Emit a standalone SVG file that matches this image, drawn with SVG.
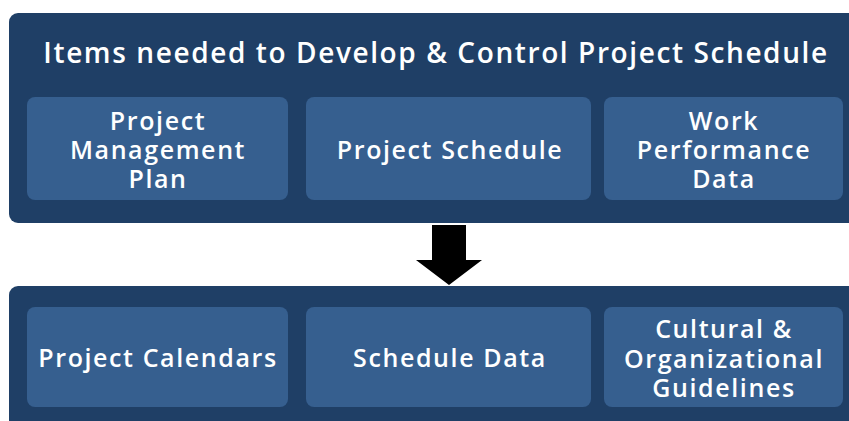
<svg xmlns="http://www.w3.org/2000/svg" width="849" height="421" viewBox="0 0 849 421">
<style>
.outer{fill:#1F3F66}
.inner{fill:#365F8F}
text{font-family:"Open Sans","Liberation Sans",sans-serif;font-weight:600;fill:#FFFFFF;text-anchor:middle;letter-spacing:1.6px}
.t{font-size:28px}
.n{font-size:25px}
</style>
<rect width="849" height="421" fill="#FFFFFF"/>
<g id="top-group">
<rect class="outer" x="9" y="13" width="860" height="210" rx="9"/>
<text class="t" x="436" y="63">Items needed to Develop &amp; Control Project Schedule</text>
</g>
<g id="node-pmp">
<rect class="inner" x="27" y="97" width="261" height="103" rx="8"/>
<text class="n"><tspan x="158" y="130">Project</tspan><tspan x="158" y="159">Management</tspan><tspan x="158" y="188">Plan</tspan></text>
</g>
<g id="node-ps">
<rect class="inner" x="306" y="97" width="285" height="103" rx="8"/>
<text class="n" x="450" y="159">Project Schedule</text>
</g>
<g id="node-wpd">
<rect class="inner" x="604" y="97" width="239" height="103" rx="8"/>
<text class="n"><tspan x="724" y="130">Work</tspan><tspan x="724" y="159">Performance</tspan><tspan x="724" y="188">Data</tspan></text>
</g>
<g id="connectors">
<polygon points="432,225 466,225 466,260 482,260 449,285 416,260 432,260" fill="#000000"/>
</g>
<g id="bottom-group">
<rect class="outer" x="9" y="286" width="860" height="150" rx="9"/>
</g>
<g id="node-pc">
<rect class="inner" x="27" y="307" width="261" height="100" rx="8"/>
<text class="n" x="158" y="367">Project Calendars</text>
</g>
<g id="node-sd">
<rect class="inner" x="306" y="307" width="285" height="100" rx="8"/>
<text class="n" x="450" y="367">Schedule Data</text>
</g>
<g id="node-cog">
<rect class="inner" x="604" y="307" width="239" height="100" rx="8"/>
<text class="n"><tspan x="724" y="338">Cultural &amp;</tspan><tspan x="724" y="368">Organizational</tspan><tspan x="724" y="397">Guidelines</tspan></text>
</g>
</svg>
